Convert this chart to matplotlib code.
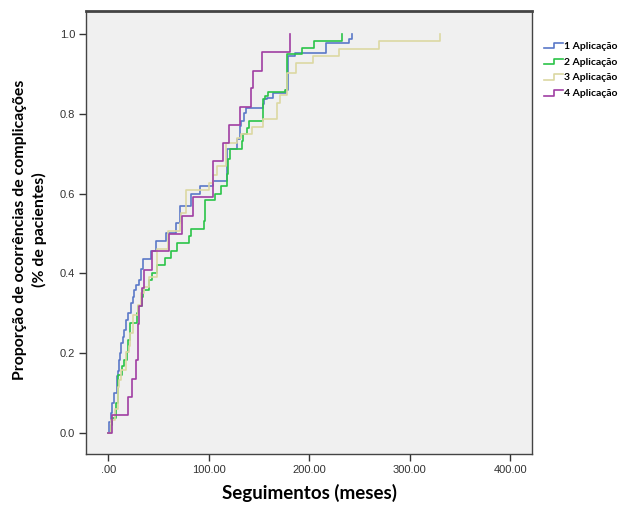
import matplotlib
matplotlib.use("Agg")
import matplotlib.pyplot as plt
from matplotlib.lines import Line2D
from matplotlib.legend_handler import HandlerLine2D
from matplotlib.ticker import FixedLocator, FuncFormatter

# cumulative proportion of complications (1 - KM)
t_ap1 = [0, 0.3, 2.7, 3.7, 6, 8.3, 10, 11, 11.7, 12.7, 14.3, 16, 17.7, 19.3, 22.7, 24.3, 26, 27.7,
         30.3, 33, 34.3, 42.7, 47.7, 57.7, 67, 71, 82.7, 91, 104, 118, 127.7, 131, 132.5, 135, 137,
         153.7, 155, 158, 164, 177, 179, 186, 217, 240, 243]
p_ap1 = [0, 0.028, 0.05, 0.075, 0.1, 0.142, 0.155, 0.183, 0.2, 0.225, 0.24, 0.259, 0.284, 0.3, 0.326,
         0.34, 0.359, 0.37, 0.384, 0.41, 0.435, 0.456, 0.482, 0.502, 0.527, 0.57, 0.598, 0.619, 0.632,
         0.711, 0.736, 0.77, 0.782, 0.803, 0.816, 0.824, 0.837, 0.841, 0.853, 0.86, 0.946, 0.954,
         0.977, 0.989, 1.0]

t_ap2 = [0, 3, 3.7, 7.7, 10, 13.3, 16, 18.3, 20, 21.7, 28.3, 30, 33.3, 35, 41, 43.7, 48.7, 57, 62.7,
         68.3, 80, 82.7, 95.3, 96.7, 106, 112, 118.5, 119.5, 121, 132.7, 134, 137.7, 140, 153.7,
         154.5, 156, 159, 176, 178, 192.7, 204.3, 232.7]
p_ap2 = [0, 0.02, 0.037, 0.075, 0.146, 0.167, 0.183, 0.204, 0.234, 0.276, 0.3, 0.317, 0.342, 0.359,
         0.384, 0.401, 0.42, 0.439, 0.456, 0.477, 0.495, 0.512, 0.531, 0.585, 0.6, 0.62, 0.65, 0.686,
         0.711, 0.732, 0.75, 0.766, 0.783, 0.82, 0.837, 0.845, 0.855, 0.86, 0.95, 0.966, 0.983, 1.0]

t_ap3 = [0, 2.7, 7, 9.3, 11, 12.7, 17.7, 20.3, 21.7, 24.3, 30, 33, 36, 40.3, 48.7, 59.3, 71, 72.7,
         77.7, 100, 104, 108, 117, 128, 132, 142.7, 153.7, 167.7, 171, 178, 187, 204, 230, 269, 330]
p_ap3 = [0, 0.033, 0.06, 0.116, 0.133, 0.158, 0.204, 0.217, 0.25, 0.296, 0.32, 0.351, 0.365, 0.391,
         0.46, 0.506, 0.527, 0.552, 0.61, 0.627, 0.648, 0.67, 0.728, 0.74, 0.749, 0.768, 0.788, 0.827,
         0.847, 0.904, 0.927, 0.946, 0.964, 0.982, 1.0]

t_ap4 = [0, 4, 20, 24, 27.5, 30, 31, 34, 36, 44, 60, 73, 84, 104, 114, 120.5, 131, 142, 144.5, 153.5, 180.5]
p_ap4 = [0, 0.045, 0.091, 0.136, 0.182, 0.273, 0.318, 0.364, 0.409, 0.455, 0.5, 0.545, 0.591, 0.682,
         0.727, 0.773, 0.818, 0.864, 0.909, 0.955, 1.0]

labels = ["1 Aplicação", "2 Aplicação", "3 Aplicação", "4 Aplicação"]
colors = ["#5a78c8", "#2bc448", "#dcd8a2", "#a03ea3"]
x_ticks = [0, 100, 200, 300, 400]
y_ticks = [0.0, 0.2, 0.4, 0.6, 0.8, 1.0]


class StepHandler(HandlerLine2D):
    # legend key drawn as a small step, like the SPSS output
    def create_artists(self, legend, orig_handle, xdescent, ydescent, width, height, fontsize, trans):
        x0, x1 = -xdescent, -xdescent + width
        xm = x0 + width * 0.55
        y0, y1 = -ydescent + height * 0.05, -ydescent + height * 0.8
        ln = Line2D([x0, xm, xm, x1], [y0, y0, y1, y1], color=orig_handle.get_color(),
                    lw=orig_handle.get_linewidth(), transform=trans)
        return [ln]


fig = plt.figure(figsize=(6.24, 5.05), dpi=100)
ax = fig.add_axes([0.138, 0.101, 0.715, 0.877])
ax.set_facecolor("#f0f0f0")

series = [(t_ap1, p_ap1), (t_ap2, p_ap2), (t_ap3, p_ap3), (t_ap4, p_ap4)]
handles = []
for (t, p), lab, c in zip(series, labels, colors):
    h, = ax.step(t, p, where="post", color=c, lw=1.2, label=lab)
    handles.append(h)

ax.set_xlim(-22, 422)
ax.set_ylim(-0.053, 1.058)
ax.xaxis.set_major_locator(FixedLocator(x_ticks))
ax.yaxis.set_major_locator(FixedLocator(y_ticks))
ax.xaxis.set_major_formatter(FuncFormatter(lambda v, pos: ".00" if v == 0 else f"{v:.2f}"))
ax.yaxis.set_major_formatter(FuncFormatter(lambda v, pos: f"{v:.1f}"))
ax.tick_params(direction="out", length=5, width=1, color="#333333", labelsize=8,
               labelcolor="#333333", pad=3)
for lab in ax.get_xticklabels() + ax.get_yticklabels():
    lab.set_family("Liberation Sans")

for side in ["left", "bottom", "right"]:
    ax.spines[side].set_color("#444444")
    ax.spines[side].set_linewidth(1.0)
ax.spines["top"].set_color("#444444")
ax.spines["top"].set_linewidth(2.0)

ax.set_xlabel("Seguimentos (meses)", fontsize=13.5, fontweight="bold", family="Lato", labelpad=6)
fig.text(30 / 624, 1 - 230 / 505, "Proporção de ocorrências de complicações\n(% de pacientes)",
         rotation=90, ha="center", va="center", fontsize=11.4, fontweight="bold", family="Lato",
         linespacing=1.45, multialignment="center")

leg = fig.legend(handles=handles, labels=labels, loc="upper left", bbox_to_anchor=(0.865, 0.926),
                 frameon=False, handler_map={Line2D: StepHandler()}, handlelength=1.8,
                 handletextpad=0.1, labelspacing=0.62, borderaxespad=0,
                 prop={"family": "Lato", "weight": "bold", "size": 7.5})

fig.savefig("out.png", dpi=100)
